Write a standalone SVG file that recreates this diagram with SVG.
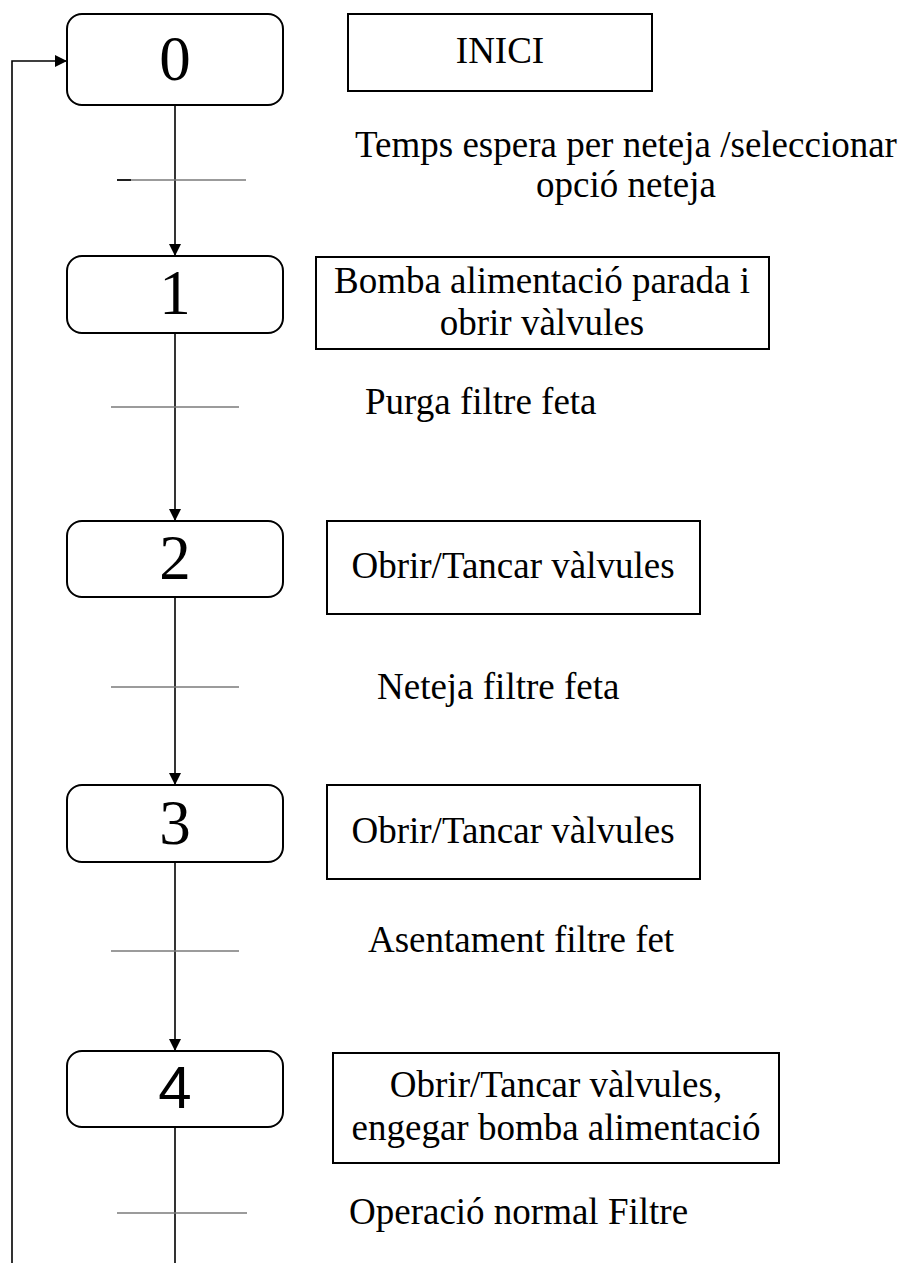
<svg xmlns="http://www.w3.org/2000/svg" width="901" height="1263" viewBox="0 0 901 1263">
<style>
.step{fill:#fff;stroke:#000;stroke-width:2}
.act{fill:#fff;stroke:#000;stroke-width:2}
.num{font-family:"Liberation Serif","Times New Roman",serif;font-size:63px;fill:#000;text-anchor:middle}
.numsans{font-family:"Liberation Sans",Arial,sans-serif;font-size:60px;fill:#000;text-anchor:middle}
.t{font-family:"Liberation Serif","Times New Roman",serif;font-size:37px;fill:#000}
.mid{text-anchor:middle}
.conn{fill:none;stroke:#000;stroke-width:1.6}
.trans{stroke:#7a7a7a;stroke-width:1.3}
</style>
<defs>
<marker id="arr" viewBox="0 0 12 12" refX="12" refY="6" markerWidth="12" markerHeight="12" markerUnits="userSpaceOnUse" orient="auto">
<path d="M0,0 L12,6 L0,12 z" fill="#000"/>
</marker>
</defs>
<rect width="901" height="1263" fill="#fff"/>

<g id="connectors">
<line class="conn" x1="175" y1="105" x2="175" y2="256" marker-end="url(#arr)"/>
<line class="conn" x1="175" y1="333" x2="175" y2="521" marker-end="url(#arr)"/>
<line class="conn" x1="175" y1="597" x2="175" y2="785" marker-end="url(#arr)"/>
<line class="conn" x1="175" y1="862" x2="175" y2="1051" marker-end="url(#arr)"/>
<path class="conn" d="M175,1127 V1275 H12 V61 H67" marker-end="url(#arr)"/>
</g>

<g id="transitions">
<line class="trans" x1="117" y1="180" x2="246" y2="180"/>
<line x1="117" y1="180" x2="131" y2="180" stroke="#000" stroke-width="1.6"/>
<line class="trans" x1="111" y1="407" x2="239" y2="407"/>
<line class="trans" x1="111" y1="687" x2="239" y2="687"/>
<line class="trans" x1="111" y1="951" x2="239" y2="951"/>
<line class="trans" x1="117" y1="1213" x2="247" y2="1213"/>
</g>

<g id="step0">
<rect class="step" x="67" y="14" width="216" height="91" rx="15"/>
<text class="num" x="175" y="80">0</text>
</g>
<g id="step1">
<rect class="step" x="67" y="256" width="216" height="77" rx="15"/>
<text class="num" x="175" y="314">1</text>
</g>
<g id="step2">
<rect class="step" x="67" y="521" width="216" height="76" rx="15"/>
<text class="num" x="175" y="579">2</text>
</g>
<g id="step3">
<rect class="step" x="67" y="785" width="216" height="77" rx="15"/>
<text class="num" x="175" y="844">3</text>
</g>
<g id="step4">
<rect class="step" x="67" y="1051" width="216" height="76" rx="15"/>
<text class="numsans" x="175" y="1108">4</text>
</g>

<g id="action0">
<rect class="act" x="348" y="14" width="304" height="77"/>
<text class="t mid" x="500" y="63">INICI</text>
</g>
<g id="cond0">
<text class="t mid" x="626" y="157">Temps espera per neteja /seleccionar</text>
<text class="t mid" x="626" y="197">opció neteja</text>
</g>
<g id="action1">
<rect class="act" x="316" y="257" width="453" height="92"/>
<text class="t mid" x="542" y="293">Bomba alimentació parada i</text>
<text class="t mid" x="542" y="335">obrir vàlvules</text>
</g>
<g id="cond1">
<text class="t" x="365" y="414">Purga filtre feta</text>
</g>
<g id="action2">
<rect class="act" x="327" y="521" width="373" height="93"/>
<text class="t mid" x="513" y="578">Obrir/Tancar vàlvules</text>
</g>
<g id="cond2">
<text class="t" x="377" y="699">Neteja filtre feta</text>
</g>
<g id="action3">
<rect class="act" x="327" y="785" width="373" height="94"/>
<text class="t mid" x="513" y="843">Obrir/Tancar vàlvules</text>
</g>
<g id="cond3">
<text class="t" x="368" y="952">Asentament filtre fet</text>
</g>
<g id="action4">
<rect class="act" x="333" y="1053" width="446" height="110"/>
<text class="t mid" x="556" y="1097">Obrir/Tancar vàlvules,</text>
<text class="t mid" x="556" y="1140">engegar bomba alimentació</text>
</g>
<g id="cond4">
<text class="t" x="349" y="1224">Operació normal Filtre</text>
</g>
</svg>
